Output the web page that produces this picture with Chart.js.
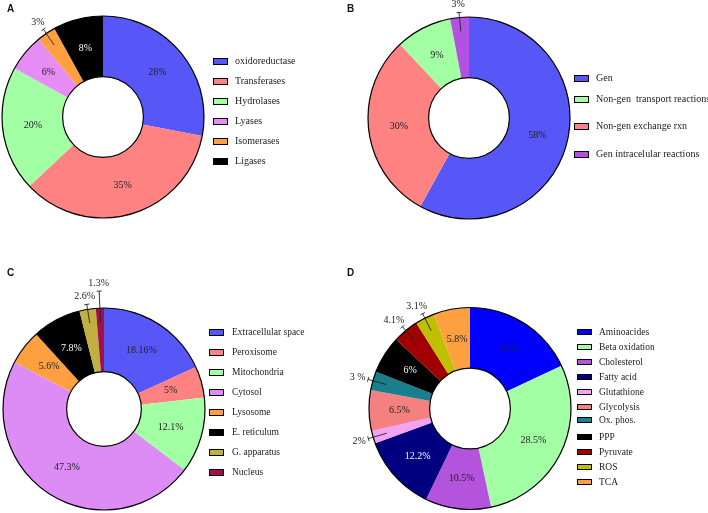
<!DOCTYPE html>
<html><head><meta charset="utf-8">
<script src="https://cdn.jsdelivr.net/npm/chart.js@4"></script>
<style>
html,body{margin:0;padding:0;background:#fff;}
#wrap{position:relative;width:708px;height:513px;overflow:hidden;font-family:"Liberation Serif","Times New Roman",serif;}
#wrap canvas{position:absolute;}
.panel{position:absolute;font-family:"Liberation Sans",Arial,sans-serif;font-weight:bold;font-size:10px;line-height:10px;color:#111;}
.lg{position:absolute;color:#1a1a1a;white-space:pre;line-height:12px;}
.lb{position:absolute;border:1px solid #000;box-sizing:border-box;}
</style></head><body><div id="wrap"></div>
<script>
// ---------- DATA ----------
// Panel A
const categoriesA = ['oxidoreductase','Transferases','Hydrolases','Lyases','Isomerases','Ligases'];
const valuesA = [28, 35, 20, 6, 3, 8];
const textsA = ['28%','35%','20%','6%','3%','8%'];
// Panel B (clockwise order from top)
const categoriesB = ['Gen','Non-gen exchange rxn','Non-gen  transport reactions','Gen intracelular reactions'];
const valuesB = [58, 30, 9, 3];
const textsB = ['58%','30%','9%','3%'];
const legendOrderB = [0, 2, 1, 3];
// Panel C
const categoriesC = ['Extracellular space','Peroxisome','Mitochondria','Cytosol','Lysosome','E. reticulum','G. apparatus','Nucleus'];
const valuesC = [18.16, 5, 12.1, 47.3, 5.6, 7.8, 2.6, 1.3];
const textsC = ['18.16%','5%','12.1%','47.3%','5.6%','7.8%','2.6%','1.3%'];
// Panel D
const categoriesD = ['Aminoacides','Beta oxidation','Cholesterol','Fatty acid','Glutathione','Glycolysis','Ox. phos.','PPP','Pyruvate','ROS','TCA'];
const valuesD = [18, 28.5, 10.5, 12.2, 2, 6.5, 3, 6, 4.1, 3.1, 5.8];
const textsD = ['18%','28.5%','10.5%','12.2%','2%','6.5%','3 %','6%','4.1%','3.1%','5.8%'];

// ---------- STYLES ----------
const colorsA = ['#5757F7','#FF8282','#A3FFA3','#E58CF5','#FFA040','#000000'];
const colorsB = ['#5757F7','#FF8282','#A3FFA3','#B352E0'];
const colorsC = ['#5757F7','#FF8282','#A3FFA3','#DD8CF5','#FFA040','#000000','#BFB040','#A0104A'];
const colorsD = ['#0000FF','#A3FFA3','#B454DC','#000080','#F3A3F3','#F58080','#1A7F8C','#000000','#A00000','#C0C000','#FFA040'];

function textColorFor(hex){
  const n=parseInt(hex.slice(1),16);
  const r=(n>>16)&255,g=(n>>8)&255,b=n&255;
  return (0.299*r+0.587*g+0.114*b) < 25 ? '#ffffff' : '#222222';
}

const donutDeco = {
  id:'donutDeco',
  afterDatasetsDraw(chart, args, opts){
    const ctx=chart.ctx; const meta=chart.getDatasetMeta(0);
    const arcs=meta.data; if(!arcs.length) return;
    const a0=arcs[0]; const cx=a0.x, cy=a0.y, R=a0.outerRadius, r=a0.innerRadius;
    ctx.save();
    ctx.strokeStyle='#000'; ctx.lineWidth=1.2;
    ctx.beginPath(); ctx.arc(cx,cy,R,0,Math.PI*2); ctx.stroke();
    ctx.beginPath(); ctx.arc(cx,cy,r,0,Math.PI*2); ctx.stroke();
    const ds=chart.data.datasets[0];
    const texts=opts.texts;
    ctx.font=opts.font; ctx.textAlign='center'; ctx.textBaseline='middle';
    const placed=[];
    arcs.forEach((arc,i)=>{
      const v=ds.data[i];
      const mid=(arc.startAngle+arc.endAngle)/2;
      const cos=Math.cos(mid), sin=Math.sin(mid);
      const t=texts[i];
      if(v>=opts.outsideBelow){
        const rr=(arc.innerRadius+arc.outerRadius)/2;
        ctx.fillStyle=textColorFor(ds.backgroundColor[i]);
        ctx.fillText(t,cx+cos*rr,cy+sin*rr);
      } else {
        const w=ctx.measureText(t).width, h=10;
        let rEnd=R+5, box;
        for(let k=0;k<6;k++){
          const ax=cx+cos*(rEnd+2), ay=cy+sin*(rEnd+2);
          const tx=ax+cos*(w/2+1), ty=ay+sin*(h/2+1);
          box={x1:tx-w/2,x2:tx+w/2,y1:ty-h/2,y2:ty+h/2,tx,ty};
          if(!placed.some(b=>!(box.x2<b.x1||box.x1>b.x2||box.y2<b.y1||box.y1>b.y2))) break;
          rEnd+=12;
        }
        placed.push(box);
        const rStart=R-14;
        const ex=cx+cos*rEnd, ey=cy+sin*rEnd;
        ctx.strokeStyle='#222'; ctx.lineWidth=0.9;
        ctx.beginPath();
        ctx.moveTo(cx+cos*rStart, cy+sin*rStart); ctx.lineTo(ex, ey);
        ctx.moveTo(ex - sin*2.5, ey + cos*2.5); ctx.lineTo(ex + sin*2.5, ey - cos*2.5);
        ctx.stroke();
        ctx.fillStyle='#222'; ctx.fillText(t, box.tx, box.ty);
      }
    });
    ctx.restore();
  }
};

const wrap=document.getElementById('wrap');

function makePanel(cfg){
  const c=document.createElement('canvas');
  c.width=cfg.w; c.height=cfg.h;
  c.style.left=cfg.left+'px'; c.style.top=cfg.top+'px';
  c.style.width=cfg.w+'px'; c.style.height=cfg.h+'px';
  wrap.appendChild(c);
  new Chart(c,{
    type:'doughnut',
    data:{labels:cfg.categories,datasets:[{data:cfg.values,backgroundColor:cfg.colors,borderWidth:0,hoverOffset:0}]},
    options:{
      responsive:false, animation:false, events:[],
      cutout:cfg.cutout,
      layout:{padding:cfg.padding},
      plugins:{legend:{display:false},tooltip:{enabled:false},
        donutDeco:{texts:cfg.texts,font:cfg.labelFont,outsideBelow:5}}
    },
    plugins:[donutDeco]
  });
  // legend
  const order=cfg.order||cfg.categories.map((_,i)=>i);
  order.forEach((idx,k)=>{
    const y=cfg.legend.rows[k];
    const b=document.createElement('div'); b.className='lb';
    b.style.left=cfg.legend.boxLeft+'px'; b.style.top=(y-cfg.legend.boxH/2)+'px';
    b.style.width=cfg.legend.boxW+'px'; b.style.height=cfg.legend.boxH+'px';
    b.style.background=cfg.colors[idx];
    wrap.appendChild(b);
    const t=document.createElement('div'); t.className='lg';
    t.style.left=cfg.legend.textLeft+'px'; t.style.top=(y-6.5)+'px';
    t.style.fontSize=cfg.legend.font+'px';
    t.textContent=cfg.categories[idx];
    wrap.appendChild(t);
  });
  const p=document.createElement('div'); p.className='panel';
  p.style.left=cfg.letterPos[0]+'px'; p.style.top=cfg.letterPos[1]+'px';
  p.textContent=cfg.letter; wrap.appendChild(p);
}

function rows(start,step,n){const a=[];for(let i=0;i<n;i++)a.push(start+i*step);return a;}

makePanel({letter:'A',letterPos:[7,4],left:0,top:0,w:354,h:256,
  categories:categoriesA,values:valuesA,texts:textsA,colors:colorsA,cutout:'40%',
  padding:{left:2,top:16,right:150,bottom:38},labelFont:'10px "Liberation Serif"',
  legend:{boxLeft:213,boxW:15,boxH:7,textLeft:235,font:10,rows:rows(61,20,6)}});

makePanel({letter:'B',letterPos:[347,4],left:354,top:0,w:354,h:256,
  categories:categoriesB,values:valuesB,texts:textsB,colors:colorsB,cutout:'40%',order:legendOrderB,
  padding:{left:14,top:17,right:138,bottom:37},labelFont:'10px "Liberation Serif"',
  legend:{boxLeft:574,boxW:15,boxH:7,textLeft:596,font:10,rows:[78,99,126,154]}});

makePanel({letter:'C',letterPos:[7,268],left:0,top:256,w:354,h:257,
  categories:categoriesC,values:valuesC,texts:textsC,colors:colorsC,cutout:'37%',
  padding:{left:3,top:52,right:149,bottom:3},labelFont:'10px "Liberation Serif"',
  legend:{boxLeft:209,boxW:15,boxH:7,textLeft:232,font:9.5,rows:rows(332,20,8)}});

makePanel({letter:'D',letterPos:[347,268],left:320,top:256,w:388,h:257,
  categories:categoriesD,values:valuesD,texts:textsD,colors:colorsD,cutout:'40%',
  padding:{left:49,top:51,right:137,bottom:3},labelFont:'10px "Liberation Serif"',
  legend:{boxLeft:577,boxW:15,boxH:6,textLeft:599,font:9.5,rows:[332,347,362,377,392,407,420,437,452,467,482]}});
</script></body></html>
